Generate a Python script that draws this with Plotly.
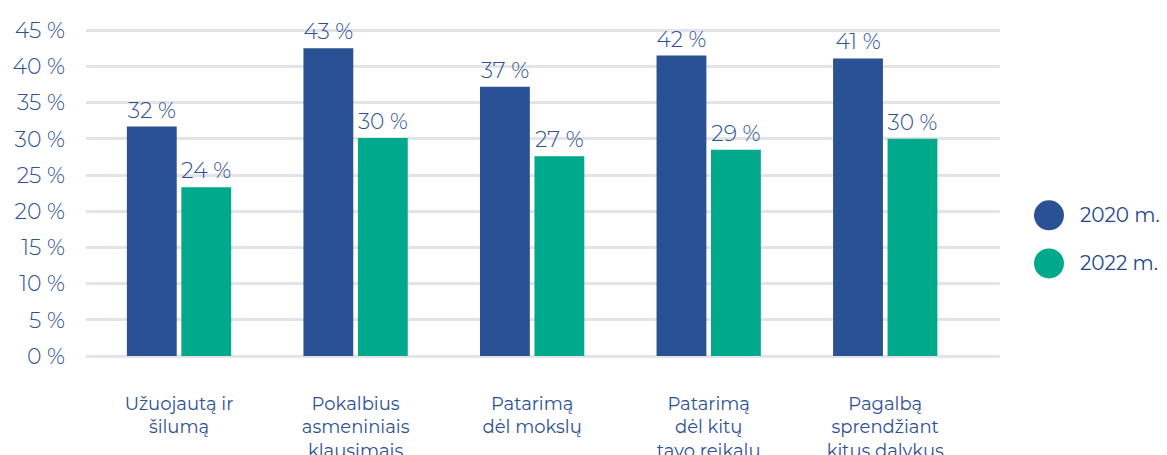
import plotly.graph_objects as go

categories = [
    "Užuojautą ir<br>šilumą",
    "Pokalbius<br>asmeniniais<br>klausimais",
    "Patarimą<br>dėl mokslų",
    "Patarimą<br>dėl kitų<br>tavo reikalų",
    "Pagalbą<br>sprendžiant<br>kitus dalykus",
]
series_names = ["2020 m.", "2022 m."]
values_2020 = [31.7, 42.5, 37.2, 41.5, 41.1]
values_2022 = [23.3, 30.1, 27.6, 28.5, 30.0]
labels_2020 = ["32 %", "43 %", "37 %", "42 %", "41 %"]
labels_2022 = ["24 %", "30 %", "27 %", "29 %", "30 %"]
y_ticks = [0, 5, 10, 15, 20, 25, 30, 35, 40, 45]
y_tick_labels = ["0 %", "5 %", "10 %", "15 %", "20 %", "25 %", "30 %", "35 %", "40 %", "45 %"]

colors = ["#2a5193", "#00a98b"]
text_color = "#2d5195"
FONT = "Montserrat, Lato, sans-serif"

x_idx = list(range(len(categories)))

fig = go.Figure()
for vals, labs, name, col in [
    (values_2020, labels_2020, series_names[0], colors[0]),
    (values_2022, labels_2022, series_names[1], colors[1]),
]:
    fig.add_trace(go.Bar(
        x=x_idx, y=vals, name=name, marker=dict(color=col, line=dict(width=0)),
        text=labs, textposition="outside", cliponaxis=False,
        textfont=dict(family=FONT, size=22, color=text_color, weight=300),
        showlegend=False,
    ))

# Legend drawn manually with circles
legend_y = [0.4225, 0.278]
for name, col, ly in zip(series_names, colors, legend_y):
    fig.add_shape(type="circle", xref="paper", yref="paper",
                  x0=1.0372, x1=1.070, y0=ly - 0.045, y1=ly + 0.045,
                  fillcolor=col, line=dict(width=0))
    fig.add_annotation(xref="paper", yref="paper", x=1.0853, y=ly, text=name,
                       showarrow=False, xanchor="left", yanchor="middle",
                       font=dict(family=FONT, size=20, color="#244a8c"))

fig.update_layout(
    width=1159, height=447,
    margin=dict(l=78, r=167, t=15, b=99, autoexpand=False),
    paper_bgcolor="white", plot_bgcolor="white",
    barmode="group", bargap=0.383, bargroupgap=0.085,
    font=dict(family=FONT, color=text_color),
)
fig.update_xaxes(
    tickmode="array", tickvals=x_idx, ticktext=categories,
    range=[-0.527, 4.65], showgrid=False, zeroline=False, showline=False,
    ticks="", ticklabelstandoff=35, automargin=False,
    tickfont=dict(family=FONT, size=18, color=text_color),
)
fig.update_yaxes(
    range=[0, 46], tickmode="array", tickvals=y_ticks, ticktext=y_tick_labels,
    showgrid=True, gridcolor="#e3e4e8", gridwidth=3,
    zeroline=True, zerolinecolor="#e3e4e8", zerolinewidth=3,
    showline=False, ticks="", ticklabelstandoff=20, automargin=False,
    tickfont=dict(family=FONT, size=22, color=text_color, weight=300),
)

fig.write_html("out.html")
